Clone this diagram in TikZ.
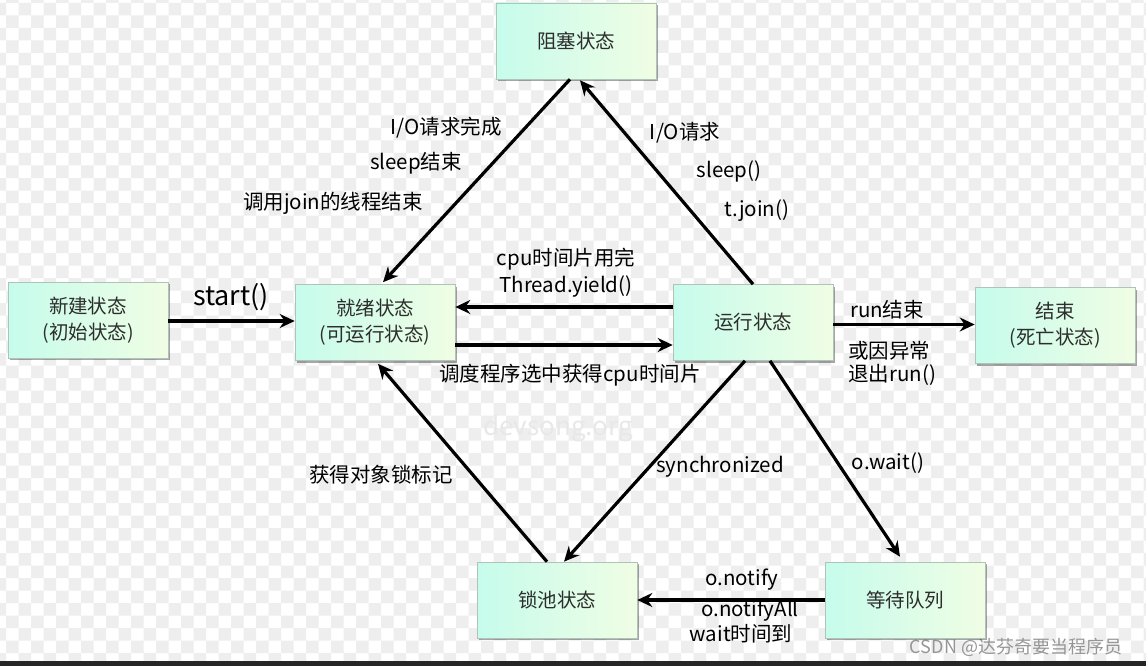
\documentclass[tikz,border=0pt]{standalone}
\usepackage{fontspec}
\setmainfont{Noto Sans CJK SC}
\usetikzlibrary{arrows.meta,shadows}
\definecolor{boxL}{RGB}{198,252,236}
\definecolor{boxR}{RGB}{240,253,228}
\definecolor{boxline}{RGB}{175,195,185}
\definecolor{boxtext}{RGB}{45,45,45}
\definecolor{checkgray}{RGB}{238,238,238}
\definecolor{barcol}{RGB}{38,38,38}
\definecolor{wmark}{RGB}{232,232,232}
\definecolor{csdn}{RGB}{150,150,150}
\begin{document}
\begin{tikzpicture}[x=1pt,y=-1pt,
  box/.style={draw=boxline, line width=0.6pt, left color=boxL, right color=boxR,
    minimum width=160pt, minimum height=76pt, inner sep=0pt, align=center,
    font=\fontsize{19.5}{26}\selectfont, text=boxtext,
    drop shadow={shadow xshift=2pt, shadow yshift=-2pt, opacity=0.35, fill=black}},
  lbl/.style={font=\fontsize{20.5}{26}\selectfont, inner sep=0pt, text=black},
  arr/.style={line width=3.2pt, -{Stealth[length=15pt,width=14pt,inset=5pt]}}
]
\useasboundingbox (0,0) rectangle (1146,666);
\begin{scope}
\clip (0,0) rectangle (1146,661);
\fill[white] (0,0) rectangle (1146,661);
\fill[checkgray]
  \foreach \i in {-1,1,...,91} {\foreach \j in {0,2,...,54} {(6+12.5*\i,3+12.5*\j) rectangle ++(12.5,12.5)}}
  \foreach \i in {0,2,...,92} {\foreach \j in {-1,1,...,53} {(6+12.5*\i,3+12.5*\j) rectangle ++(12.5,12.5)}};
\end{scope}
\fill[barcol] (0,661) rectangle (1146,666);

% watermarks
\node[font=\fontsize{26}{30}\selectfont, text=wmark, inner sep=0pt] (wm) at (558,428) {devsong.org};
\node[font=\fontsize{18}{20}\selectfont, text=csdn, inner sep=0pt] (csdn) at (1016,647) {CSDN @达芬奇要当程序员};

% boxes
\node[box] (block) at (576,41) {阻塞状态};
\node[box] (new) at (88,320) {新建状态\\(初始状态)};
\node[box] (ready) at (375,322.5) {就绪状态\\(可运行状态)};
\node[box] (run) at (753,322.5) {运行状态};
\node[box] (end) at (1055,325.5) {结束\\(死亡状态)};
\node[box] (lock) at (557,600) {锁池状态};
\node[box] (wait) at (905,600) {等待队列};

% connectors
\draw[arr] ([yshift=-1pt]new.east) -- ([yshift=-1pt]new.east -| ready.west);
\draw[arr] ([xshift=-6pt]block.south) -- ([xshift=8pt,yshift=2pt]ready.north);
\draw[arr] ([xshift=0pt]run.north) -- ([xshift=4pt,yshift=-1pt]block.south);
\draw[arr] ([yshift=15.5pt]run.west) -- ([yshift=15.5pt]run.west -| ready.east);
\draw[arr] ([yshift=-22.5pt]ready.east) -- ([yshift=-22.5pt]ready.east -| run.west);
\draw[arr] ([yshift=-2pt]run.east) -- ([yshift=-2pt]run.east -| end.west);
\draw[arr] ([xshift=-8pt]run.south) -- ([xshift=7pt]lock.north);
\draw[arr] ([xshift=17pt]run.south) -- ([xshift=-5pt,yshift=5pt]wait.north);
\draw[arr] (wait.west) -- (lock.east);
\draw[arr] ([xshift=-10pt]lock.north) -- ([xshift=3pt,yshift=-3pt]ready.south);

% labels
\node[lbl] (l1) at (446,128) {I/O请求完成};
\node[lbl] (l2) at (416,163) {sleep结束};
\node[lbl] (l3) at (333,203) {调用join的线程结束};
\node[lbl] (l4) at (685,133) {I/O请求};
\node[lbl] (l5) at (729,171) {sleep()};
\node[lbl] (l6) at (757,211) {t.join()};
\node[lbl] (l7) at (566,259) {cpu时间片用完};
\node[lbl] (l8) at (566,287) {Thread.yield()};
\node[lbl] (l9) at (570,375) {调度程序选中获得cpu时间片};
\node[lbl, font=\fontsize{27}{30}\selectfont] (ls) at (231,297) {start()};
\node[lbl] (l10) at (887,310) {run结束};
\node[lbl, anchor=west] (l11) at (848,351) {或因异常};
\node[lbl, anchor=west] (l12) at (848,375) {退出run()};
\node[lbl] (l13) at (720,467) {synchronized};
\node[lbl] (l14) at (888,463) {o.wait()};
\node[lbl] (l15) at (381,475) {获得对象锁标记};
\node[lbl] (l16) at (742,580) {o.notify};
\node[lbl] (l17) at (750,611) {o.notifyAll};
\node[lbl] (l18) at (741,634) {wait时间到};
\end{tikzpicture}
\end{document}
